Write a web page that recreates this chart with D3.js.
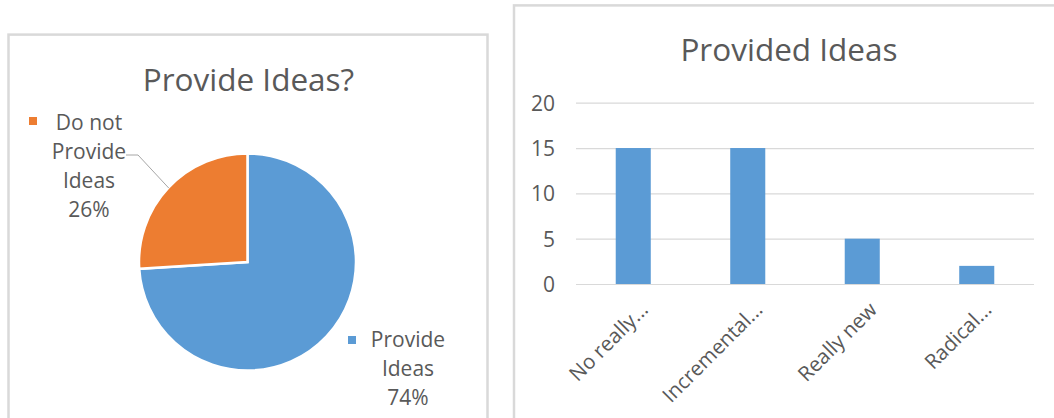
<!DOCTYPE html>
<html>
<head>
<meta charset="utf-8">
<script src="https://cdn.jsdelivr.net/npm/d3@7/dist/d3.min.js"></script>
<style>
  html, body { margin: 0; padding: 0; background: #fff; }
  svg { display: block; font-family: "Open Sans", sans-serif; }
</style>
</head>
<body>
<svg id="chart" width="1054" height="418"></svg>
<script>
// ---------- DATA ----------
const pieTitle = "Provide Ideas?";
const pieCategories = ["Provide Ideas", "Do not Provide Ideas"];
const pieValues = [37, 13];
const pieColors = ["#5B9BD5", "#ED7D31"];

const barTitle = "Provided Ideas";
const barCategories = ["No really...", "Incremental...", "Really new", "Radical..."];
const barValues = [15, 15, 5, 2];
const yTicks = [0, 5, 10, 15, 20];

// ---------- SETUP ----------
const svg = d3.select("#chart");
const textColor = "#595959";
const borderColor = "#d9d9d9";

// panel borders
svg.append("rect").attr("x", 8.5).attr("y", 34.6).attr("width", 479).attr("height", 600)
  .attr("fill", "#fff").attr("stroke", borderColor).attr("stroke-width", 2.5);
svg.append("rect").attr("x", 514).attr("y", 5.4).attr("width", 700).attr("height", 600)
  .attr("fill", "#fff").attr("stroke", borderColor).attr("stroke-width", 2.5);

// ---------- PIE ----------
const cx = 247.5, cy = 262, r = 108.5;
svg.append("text").attr("x", 248.5).attr("y", 91).attr("text-anchor", "middle")
  .attr("font-size", 31.5).attr("fill", textColor).text(pieTitle);

const pie = d3.pie().sort(null).value(d => d)(pieValues);
const arc = d3.arc().innerRadius(0).outerRadius(r);
const g = svg.append("g").attr("transform", `translate(${cx},${cy})`);
g.selectAll("path").data(pie).join("path")
  .attr("d", arc)
  .attr("fill", (d, i) => pieColors[i])
  .attr("stroke", "#fff").attr("stroke-width", 2.5).attr("stroke-linejoin", "miter");

const total = d3.sum(pieValues);
// label layout (block centre x, first baseline y, marker position)
const labelLayout = [
  { x: 408, y: 347, mx: 348, my: 336 },
  { x: 89, y: 129.5, mx: 29, my: 117 }
];

function wrapWords(text, maxW, size) {
  const tmp = svg.append("text").attr("font-size", size).attr("visibility", "hidden");
  const words = text.split(" ");
  const lines = [];
  let cur = "";
  words.forEach(w => {
    const test = cur ? cur + " " + w : w;
    tmp.text(test);
    if (tmp.node().getComputedTextLength() > maxW && cur) { lines.push(cur); cur = w; }
    else cur = test;
  });
  if (cur) lines.push(cur);
  tmp.remove();
  return lines;
}

pie.forEach((d, i) => {
  const L = labelLayout[i];
  const lines = wrapWords(pieCategories[i], 85, 21);
  lines.push(Math.round(pieValues[i] / total * 100) + "%");
  const t = svg.append("text").attr("text-anchor", "middle").attr("font-size", 21).attr("fill", textColor);
  lines.forEach((ln, k) => {
    t.append("tspan").attr("x", L.x).attr("y", L.y + k * 29.2).text(ln);
  });
  svg.append("rect").attr("x", L.mx).attr("y", L.my).attr("width", 8).attr("height", 8)
    .attr("fill", pieColors[i]);
});

// leader line for the orange slice
{
  const d = pie[1];
  const mid = (d.startAngle + d.endAngle) / 2;
  const rr = 108;
  const px = cx + Math.sin(mid) * rr, py = cy - Math.cos(mid) * rr;
  svg.append("polyline")
    .attr("points", `${px},${py} 138,155 126,155`)
    .attr("fill", "none").attr("stroke", "#a6a6a6").attr("stroke-width", 1);
}

// ---------- BAR ----------
svg.append("text").attr("x", 789).attr("y", 61).attr("text-anchor", "middle")
  .attr("font-size", 31.5).attr("fill", textColor).text(barTitle);

const x = d3.scaleBand().domain(barCategories).range([576, 1034])
  .paddingInner(0.694).paddingOuter(0.347);
const y = d3.scaleLinear().domain([0, 20]).range([284, 102.7]);

const yAxis = d3.axisLeft(y).tickValues(yTicks).tickSize(-(1034 - 576)).tickPadding(21);
const ya = svg.append("g").attr("transform", "translate(576,0)").call(yAxis);
ya.select(".domain").remove();
ya.selectAll(".tick line").attr("stroke", borderColor).attr("stroke-width", 1.2);
ya.selectAll(".tick text").attr("font-size", 21).attr("fill", textColor)
  .attr("font-family", "Open Sans, sans-serif").attr("dy", "0.36em");

svg.append("g").selectAll("rect").data(barValues).join("rect")
  .attr("x", (d, i) => x(barCategories[i]))
  .attr("y", d => y(d))
  .attr("width", x.bandwidth())
  .attr("height", d => y(0) - y(d))
  .attr("fill", "#5B9BD5");

svg.append("g").selectAll("text").data(barCategories).join("text")
  .attr("transform", d => `translate(${x(d) + x.bandwidth() / 2 + 16},${311}) rotate(-45)`)
  .attr("text-anchor", "end").attr("font-size", 20.5).attr("fill", textColor)
  .text(d => d);
</script>
</body>
</html>
